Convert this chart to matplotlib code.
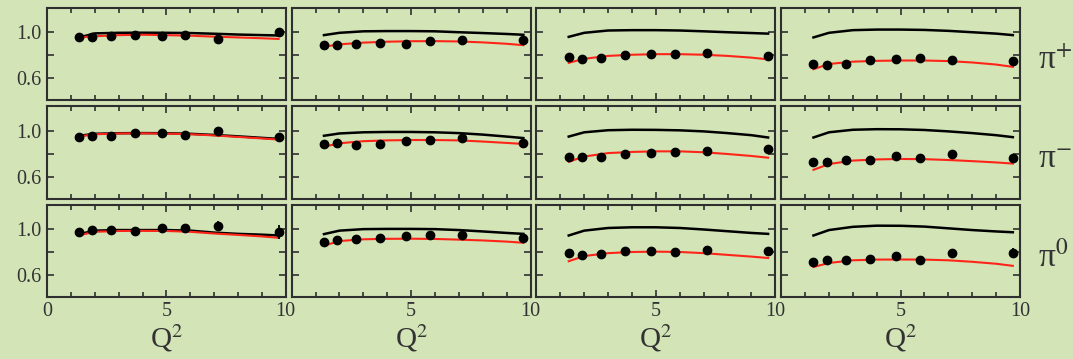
import matplotlib
matplotlib.use("Agg")
import matplotlib.pyplot as plt
from matplotlib.ticker import FixedLocator

plt.rcParams['font.family'] = ['Liberation Serif', 'DejaVu Serif']
plt.rcParams['mathtext.fontset'] = 'stix'

# Data points: Q^2 positions shared by all panels
q2_data = [1.35, 1.9, 2.7, 3.7, 4.8, 5.8, 7.15, 9.7]
# Theory-curve Q^2 nodes
q2_curve = [1.35, 2, 3, 4, 5, 6, 7, 8, 9, 9.7]

x_ticks = [0, 5, 10]
x_minor = [1, 2, 3, 4, 6, 7, 8, 9]
y_ticks = [0.6, 0.8, 1.0]
row_labels = ['π$^{+}$', 'π$^{-}$', 'π$^{0}$']

# rows: pi+, pi-, pi0 ; columns: 4 panels
data_pip = [
    [0.957, 0.957, 0.966, 0.980, 0.966, 0.974, 0.943, 1.003],
    [0.888, 0.888, 0.900, 0.906, 0.900, 0.920, 0.929, 0.931],
    [0.783, 0.766, 0.774, 0.803, 0.809, 0.815, 0.820, 0.791],
    [0.723, 0.714, 0.729, 0.757, 0.766, 0.774, 0.760, 0.751],
]
data_pim = [
    [0.943, 0.957, 0.954, 0.977, 0.977, 0.960, 0.997, 0.943],
    [0.882, 0.890, 0.878, 0.887, 0.910, 0.916, 0.934, 0.896],
    [0.774, 0.769, 0.774, 0.797, 0.803, 0.817, 0.826, 0.843],
    [0.725, 0.729, 0.742, 0.748, 0.777, 0.760, 0.800, 0.760],
]
data_pi0 = [
    [0.971, 0.991, 0.991, 0.985, 1.005, 1.005, 1.028, 0.971],
    [0.885, 0.908, 0.914, 0.920, 0.937, 0.945, 0.951, 0.925],
    [0.794, 0.771, 0.786, 0.805, 0.808, 0.797, 0.820, 0.805],
    [0.714, 0.728, 0.728, 0.743, 0.765, 0.728, 0.794, 0.794],
]

err_pip = [
    [0.01, 0.01, 0.01, 0.01, 0.01, 0.01, 0.01, 0.02],
    [0.01, 0.01, 0.01, 0.01, 0.01, 0.01, 0.01, 0.02],
    [0.01, 0.01, 0.01, 0.01, 0.01, 0.01, 0.01, 0.02],
    [0.01, 0.01, 0.01, 0.01, 0.01, 0.01, 0.01, 0.02],
]
err_pim = [
    [0.01, 0.01, 0.01, 0.015, 0.015, 0.015, 0.03, 0.03],
    [0.01, 0.01, 0.01, 0.01, 0.015, 0.015, 0.02, 0.02],
    [0.01, 0.01, 0.01, 0.01, 0.015, 0.015, 0.02, 0.03],
    [0.01, 0.01, 0.01, 0.01, 0.025, 0.015, 0.03, 0.03],
]
err_pi0 = [
    [0.01, 0.015, 0.015, 0.015, 0.015, 0.02, 0.04, 0.06],
    [0.01, 0.01, 0.01, 0.01, 0.015, 0.02, 0.02, 0.03],
    [0.01, 0.01, 0.01, 0.01, 0.015, 0.015, 0.03, 0.03],
    [0.01, 0.01, 0.01, 0.01, 0.015, 0.02, 0.035, 0.04],
]

black_pip = [
    [0.955, 0.990, 0.995, 0.996, 0.995, 0.993, 0.987, 0.980, 0.975, 0.972],
    [0.975, 0.995, 1.008, 1.010, 1.010, 1.008, 1.000, 0.993, 0.985, 0.978],
    [0.960, 0.995, 1.015, 1.018, 1.018, 1.015, 1.008, 1.000, 0.993, 0.988],
    [0.955, 0.995, 1.018, 1.023, 1.023, 1.020, 1.012, 1.000, 0.988, 0.975],
]
red_pip = [
    [0.955, 0.965, 0.975, 0.978, 0.975, 0.970, 0.962, 0.955, 0.948, 0.942],
    [0.875, 0.895, 0.910, 0.918, 0.922, 0.923, 0.920, 0.912, 0.900, 0.888],
    [0.735, 0.770, 0.795, 0.805, 0.810, 0.810, 0.805, 0.795, 0.780, 0.765],
    [0.680, 0.725, 0.745, 0.752, 0.755, 0.755, 0.750, 0.738, 0.720, 0.700],
]
black_pim = [
    [0.955, 0.972, 0.977, 0.978, 0.977, 0.972, 0.962, 0.950, 0.937, 0.928],
    [0.955, 0.975, 0.985, 0.988, 0.988, 0.985, 0.978, 0.965, 0.948, 0.935],
    [0.948, 0.985, 1.003, 1.007, 1.006, 1.002, 0.993, 0.978, 0.960, 0.940],
    [0.940, 0.985, 1.007, 1.012, 1.011, 1.005, 0.993, 0.978, 0.960, 0.943],
]
red_pim = [
    [0.950, 0.968, 0.975, 0.976, 0.974, 0.968, 0.958, 0.945, 0.932, 0.922],
    [0.860, 0.890, 0.908, 0.915, 0.918, 0.918, 0.915, 0.905, 0.893, 0.884],
    [0.730, 0.775, 0.805, 0.815, 0.820, 0.820, 0.812, 0.797, 0.780, 0.765],
    [0.660, 0.710, 0.740, 0.750, 0.754, 0.752, 0.745, 0.735, 0.724, 0.714],
]
black_pi0 = [
    [0.955, 0.985, 0.990, 0.990, 0.990, 0.985, 0.968, 0.957, 0.950, 0.943],
    [0.955, 0.985, 0.998, 1.000, 1.000, 0.998, 0.990, 0.978, 0.965, 0.957],
    [0.943, 0.985, 1.008, 1.014, 1.014, 1.008, 0.995, 0.980, 0.965, 0.957],
    [0.943, 0.990, 1.018, 1.028, 1.027, 1.020, 1.005, 0.990, 0.978, 0.971],
]
red_pi0 = [
    [0.945, 0.975, 0.982, 0.983, 0.982, 0.975, 0.960, 0.948, 0.935, 0.923],
    [0.855, 0.895, 0.910, 0.914, 0.915, 0.913, 0.907, 0.900, 0.890, 0.880],
    [0.720, 0.765, 0.790, 0.800, 0.803, 0.800, 0.790, 0.775, 0.760, 0.748],
    [0.670, 0.705, 0.728, 0.734, 0.735, 0.734, 0.728, 0.715, 0.698, 0.680],
]

rows_data = [data_pip, data_pim, data_pi0]
rows_err = [err_pip, err_pim, err_pi0]
rows_black = [black_pip, black_pim, black_pi0]
rows_red = [red_pip, red_pim, red_pi0]

bg = '#d3e4b7'
frame = '#2f2f2f'
txt = '#333333'

fig, axes = plt.subplots(3, 4, figsize=(10.73, 3.59), dpi=100)
fig.patch.set_facecolor(bg)
fig.subplots_adjust(left=47/1073, right=1020/1073, top=1-8/359, bottom=1-297/359,
                    wspace=0.025, hspace=0.065)

for r in range(3):
    for c in range(4):
        ax = axes[r, c]
        ax.set_facecolor(bg)
        ax.plot(q2_curve, rows_black[r][c], color='black', lw=1.8, zorder=2)
        ax.plot(q2_curve, rows_red[r][c], color='#ff2418', lw=1.5, zorder=3)
        ax.errorbar(q2_data, rows_data[r][c], yerr=rows_err[r][c], fmt='o',
                    color='black', ms=6, elinewidth=1.3, capsize=0, zorder=4)
        ax.set_xlim(0, 10)
        ax.set_ylim(0.41, 1.21)
        for s in ax.spines.values():
            s.set_color(frame)
            s.set_linewidth(1.5)
        ax.set_xticks(x_ticks)
        ax.xaxis.set_minor_locator(FixedLocator(x_minor))
        ax.set_yticks(y_ticks)
        ax.tick_params(which='both', direction='in', top=True, right=True,
                       color=frame, width=1.2, labelsize=14.5, labelcolor=txt)
        ax.tick_params(which='major', length=5)
        ax.tick_params(which='minor', length=3.5)
        ax.tick_params(axis='y', pad=4)
        if c == 0:
            ax.set_yticklabels(['0.6', '', '1.0'])
        else:
            ax.set_yticklabels([])
        if r == 2:
            if c == 0:
                ax.set_xticklabels(['0', '5', '10'])
            else:
                ax.set_xticklabels(['', '5', '10'])
            ax.set_xlabel(r'Q$^{2}$', fontsize=21, color=txt, labelpad=1)
        else:
            ax.set_xticklabels([])
    axes[r, 3].text(1.075, 0.43, row_labels[r], transform=axes[r, 3].transAxes,
                    fontsize=24, color=txt, ha='left', va='center')

fig.savefig('out.png', dpi=100, facecolor=bg)
